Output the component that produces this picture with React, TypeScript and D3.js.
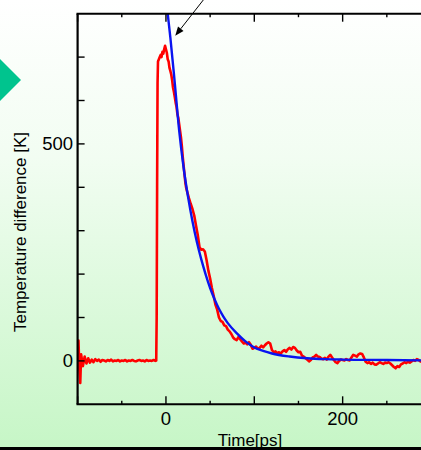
import React from "react";
import * as d3 from "d3";

const redTime = [
  -100, -99, -98, -97, -96, -94, -92, -90, -88, -86, -84, -82, -80, -78, -76, -74, -72, -70, -68, -66, -64, -62, -60,
  -58, -56, -54, -52, -50, -48, -46, -44, -42, -40, -38, -36, -34, -32, -30, -28, -26, -24, -22, -20, -18, -16, -14,
  -12, -11, -10.5, -10, -9.5, -9, -8, -7, -6, -5, -4, -3, -2, -1, 0, 1, 2, 3, 4, 5, 6, 7, 8, 9, 10, 11, 12, 13, 14,
  15, 16, 17, 18, 19, 20, 21, 22, 23, 24, 26, 28, 30, 32, 34, 36, 38, 40, 42, 44, 46, 48, 50, 52, 54, 56, 58, 60,
  62, 64, 66, 68, 70, 72, 74, 76, 78, 80, 82, 84, 86, 88, 90, 92, 94, 96, 98, 100, 102, 104, 106, 108, 110, 112,
  114, 116, 118, 120, 122, 124, 126, 128, 130, 132, 134, 136, 138, 140, 142, 144, 146, 148, 150, 152, 154, 156,
  158, 160, 162, 164, 166, 168, 170, 172, 174, 176, 178, 180, 182, 184, 186, 188, 190, 192, 194, 196, 198, 200,
  202, 204, 206, 208, 210, 212, 214, 216, 218, 220, 222, 224, 226, 228, 230, 232, 234, 236, 238, 240, 242, 244,
  246, 248, 250, 252, 254, 256, 258, 260, 262, 264, 266, 268, 270, 272, 274, 276, 278, 280, 282, 284, 286, 288,
  290, 292, 294, 296, 298, 300,
];
const redTemp = [
  5, 47, -20, -51, 15, -12, 10, -6, 6, -4, 3, -3, 4, 0, 3, -2, 2, 1, -1, 2, 0, 3, -1,
  1, 0, 2, -1, 1, 0, 2, -1, 1, 0, 2, 0, -1, 1, 2, 0, 1, -1, 2, 0, 1, 0, 2,
  0, 1, 100, 400, 640, 690, 695, 700, 705, 700, 712, 708, 718, 726, 718, 710, 695, 690, 675, 668, 660, 647, 630, 620, 608, 595, 585, 568, 560,
  545, 530, 515, 495, 470, 450, 430, 410, 398, 390, 375, 362, 350, 335, 312, 290, 262, 256, 257, 252, 232, 208, 190, 168, 150, 130, 118, 100,
  92, 90, 82, 80, 72, 68, 62, 54, 50, 48, 55, 50, 45, 40, 42, 38, 43, 37, 28, 30, 33, 28, 30, 35, 31, 36,
  40, 43, 40, 25, 20, 22, 18, 20, 17, 22, 25, 21, 27, 30, 26, 32, 30, 24, 20, 21, 12, 10,
  6, 3, -1, 2, 8, 10, 14, 10, 9, 5, 4, 7, 3, 10, 14, 8, 2, -3, -5, 0, 3, 2,
  1, 4, 2, 1, 8, 14, 12, 10, 15, 17, 16, 8, -2, -5, -3, -7, -4, -8, -9, -6, -3, -5,
  -7, -4, -5, -3, -6, -10, -14, -17, -12, -14, -8, -6, -3, -5, -2, -4, -1, 2, 0, 4, 2, -1,
  -3, 0, 2, -1, 1, 0,
];

const blueTime = [1, 2, 5, 10, 15, 20, 25, 30, 35, 40, 45, 50, 55, 60, 65, 70, 80, 90, 100, 110, 120, 140, 160, 180, 200, 250, 300];
const blueTemp = [820, 800, 745, 640, 530, 445, 378, 322, 274, 234, 199, 168, 142, 120, 102, 87, 64, 45, 31, 23, 17, 10, 6, 4, 3, 2, 1];

const xMajorTicks = [-100, 0, 100, 200, 300];
const xMinorTicks = [-50, 50, 150, 250];
const xTickLabels = [0, 200];
const yTicks = [0, 100, 200, 300, 400, 500, 600, 700];
const yTickLabels = [0, 500];

const W = 421;
const H = 450;

export default function App() {
  const x = d3.scaleLinear().domain([-100, 300]).range([77.6, 431]);
  const y = d3.scaleLinear().domain([-100, 800]).range([404.3, 13.7]);

  const redPts: [number, number][] = redTime.map((t, i) => [t, redTemp[i]]);
  const bluePts: [number, number][] = blueTime.map((t, i) => [t, blueTemp[i]]);

  const redLine = d3
    .line<[number, number]>()
    .x((d) => x(d[0]))
    .y((d) => y(d[1]));
  const blueLine = d3
    .line<[number, number]>()
    .x((d) => x(d[0]))
    .y((d) => y(d[1]))
    .curve(d3.curveMonotoneX);

  const x0 = x(-100);
  const x1 = x(300);
  const yTop = y(800);
  const yBot = y(-100);
  const font = "'Liberation Sans', Arial, sans-serif";

  const arrowTip: [number, number] = [x(10.5), y(749)];
  const arrowStart: [number, number] = [x(45.5), y(840)];
  const ang = Math.atan2(arrowTip[1] - arrowStart[1], arrowTip[0] - arrowStart[0]);
  const ah = 9;
  const aw = 3.5;
  const bx = arrowTip[0] - ah * Math.cos(ang);
  const by = arrowTip[1] - ah * Math.sin(ang);
  const headPts = [
    arrowTip,
    [bx + aw * Math.sin(ang), by - aw * Math.cos(ang)],
    [bx - aw * Math.sin(ang), by + aw * Math.cos(ang)],
  ]
    .map((p) => p.join(","))
    .join(" ");

  return (
    <svg
      width={W}
      height={H}
      style={{ position: "absolute", left: 0, top: 0, display: "block" }}
    >
      <defs>
        <linearGradient id="bg" x1="0" y1="0" x2="0" y2="1">
          <stop offset="0%" stopColor="#ffffff" />
          <stop offset="35%" stopColor="#f2fdf2" />
          <stop offset="100%" stopColor="#c6f6c6" />
        </linearGradient>
        <clipPath id="plotClip">
          <rect x={x0} y={yTop} width={x1 - x0} height={yBot - yTop} />
        </clipPath>
      </defs>
      <rect x={0} y={0} width={W} height={H} fill="url(#bg)" />

      <polygon points="-33,80 -6,53 21,80 -6,107" fill="#00c48e" />

      <g clipPath="url(#plotClip)">
        <path d={redLine(redPts) || ""} fill="none" stroke="#ff0000" strokeWidth={2.6} strokeLinejoin="round" />
        <path d={blueLine(bluePts) || ""} fill="none" stroke="#0a14f0" strokeWidth={2.4} />
      </g>

      {/* axes frame */}
      <line x1={x0} y1={yTop} x2={x0} y2={yBot} stroke="#000" strokeWidth={2.2} />
      <line x1={x0 - 1.1} y1={yTop} x2={x1} y2={yTop} stroke="#000" strokeWidth={2} />
      <line x1={x0 - 1.1} y1={yBot} x2={x1} y2={yBot} stroke="#000" strokeWidth={2} />

      {yTicks.map((t) => (
        <line key={"yt" + t} x1={x0} x2={x0 + 7} y1={y(t)} y2={y(t)} stroke="#000" strokeWidth={1.4} />
      ))}
      {xMajorTicks.map((t) => (
        <g key={"xm" + t}>
          <line x1={x(t)} x2={x(t)} y1={yBot} y2={yBot - 8} stroke="#000" strokeWidth={1.4} />
          <line x1={x(t)} x2={x(t)} y1={yTop} y2={yTop + 8} stroke="#000" strokeWidth={1.4} />
        </g>
      ))}
      {xMinorTicks.map((t) => (
        <g key={"xn" + t}>
          <line x1={x(t)} x2={x(t)} y1={yBot} y2={yBot - 3.5} stroke="#000" strokeWidth={1.4} />
          <line x1={x(t)} x2={x(t)} y1={yTop} y2={yTop + 3.5} stroke="#000" strokeWidth={1.4} />
        </g>
      ))}

      {xTickLabels.map((t) => (
        <text key={"xl" + t} x={x(t)} y={425} textAnchor="middle" fontFamily={font} fontSize={18.5} fill="#000">
          {t}
        </text>
      ))}
      {yTickLabels.map((t) => (
        <text
          key={"yl" + t}
          x={73}
          y={y(t)}
          dy="0.35em"
          textAnchor="end"
          fontFamily={font}
          fontSize={18.5}
          fill="#000"
        >
          {t}
        </text>
      ))}

      <text
        transform={`translate(26,232) rotate(-90)`}
        textAnchor="middle"
        fontFamily={font}
        fontSize={17}
        fill="#000"
      >
        Temperature difference [K]
      </text>
      <text x={250} y={446} textAnchor="middle" fontFamily={font} fontSize={17} fill="#000">
        Time[ps]
      </text>

      {/* annotation arrow */}
      <line
        x1={arrowStart[0]}
        y1={arrowStart[1]}
        x2={bx}
        y2={by}
        stroke="#000"
        strokeWidth={1}
      />
      <polygon points={headPts} fill="#000" />

      <rect x={0} y={447} width={W} height={3} fill="#000" />
    </svg>
  );
}
